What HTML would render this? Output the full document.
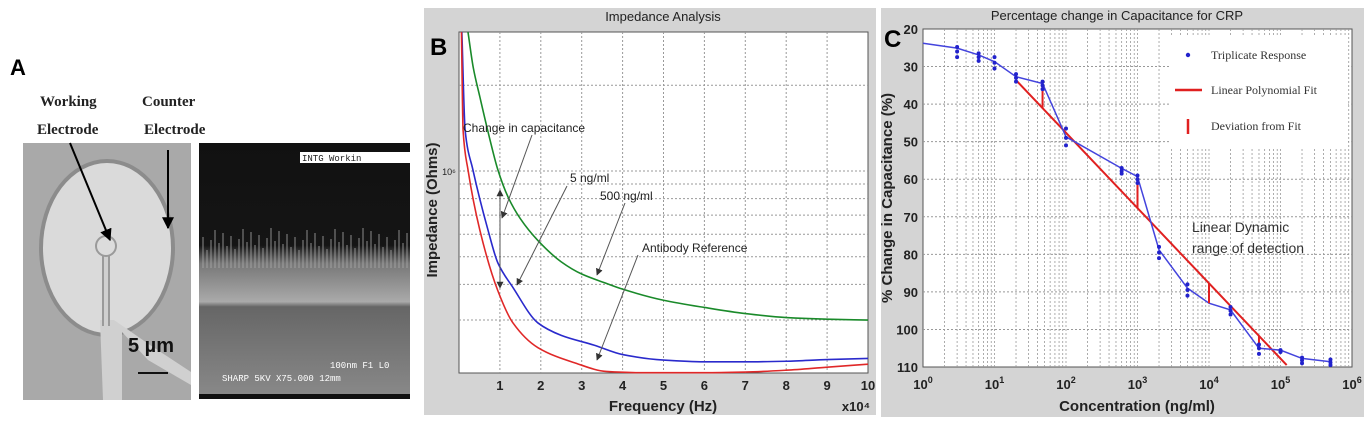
<!DOCTYPE html>
<html><head><meta charset="utf-8"><style>
html,body{margin:0;padding:0;background:#fff;}
svg{display:block;font-family:"Liberation Sans",sans-serif;}
</style></head><body>
<svg id="fig" width="1370" height="421" viewBox="0 0 1370 421">
<defs>
<linearGradient id="semg" x1="0" y1="0" x2="0" y2="1">
<stop offset="0" stop-color="#111"/><stop offset="0.4" stop-color="#151515"/><stop offset="0.47" stop-color="#777"/><stop offset="0.62" stop-color="#aaa"/><stop offset="0.64" stop-color="#666"/><stop offset="1" stop-color="#8a8a8a"/>
</linearGradient>
<marker id="ah" viewBox="0 0 10 10" refX="9" refY="5" markerWidth="7" markerHeight="7" orient="auto-start-reverse"><path d="M0,0 L10,5 L0,10 z" fill="#333"/></marker>
<marker id="ahb" viewBox="0 0 10 10" refX="9" refY="5" markerWidth="6" markerHeight="6" orient="auto-start-reverse"><path d="M0,0 L10,5 L0,10 z" fill="#000"/></marker>
</defs>

<!-- Panel A -->
<g>
<text x="10" y="75" font-size="22" font-weight="bold">A</text>
<g font-family="Liberation Serif,serif" font-weight="bold" font-size="15" fill="#222">
<text x="40" y="106">Working</text>
<text x="37" y="134">Electrode</text>
<text x="142" y="106">Counter</text>
<text x="144" y="134">Electrode</text>
</g>
<g>
<rect x="23" y="143" width="168" height="257" fill="#a9a9a9"/>
<ellipse cx="107" cy="248" rx="68" ry="89" fill="#8c8c8c"/>
<ellipse cx="107" cy="248" rx="64" ry="85" fill="#dadada"/>
<path d="M100 320 L114 320 L150 345 L191 372 L191 385 L148 360 L122 332 L122 400 L103 400 Z" fill="#d0d0d0"/>
<rect x="102" y="256" width="8" height="70" fill="#9a9a9a"/>
<rect x="104" y="256" width="4" height="70" fill="#d0d0d0"/>
<circle cx="106" cy="246" r="11" fill="#9a9a9a"/><circle cx="106" cy="246" r="9" fill="#dcdcdc"/>
<line x1="70" y1="143" x2="110" y2="240" stroke="#000" stroke-width="2" marker-end="url(#ahb)"/>
<line x1="168" y1="150" x2="168" y2="228" stroke="#000" stroke-width="2" marker-end="url(#ahb)"/>
<text x="128" y="352" font-size="20" font-weight="bold" fill="#111">5 µm</text>
<line x1="138" y1="373" x2="168" y2="373" stroke="#111" stroke-width="2"/>
</g>
<g>
<rect x="199" y="143" width="211" height="256" fill="url(#semg)"/>
<g id="wires" stroke="#aaa" stroke-width="1" opacity="0.8"></g>
<rect x="300" y="152" width="110" height="11" fill="#fff"/>
<text x="302" y="161" font-family="Liberation Mono,monospace" font-size="9" fill="#222">INTG Workin</text>
<text x="330" y="368" font-family="Liberation Mono,monospace" font-size="9" fill="#fff">100nm  F1 L0</text>
<text x="222" y="381" font-family="Liberation Mono,monospace" font-size="9" fill="#fff">SHARP   5KV  X75.000 12mm</text>
<rect x="199" y="394" width="211" height="5" fill="#111"/>
</g>
</g>

<!-- Panel B -->
<g>
<rect x="424" y="8" width="452" height="407" fill="#d4d4d4"/>
<rect x="459" y="32" width="409" height="341" fill="#fff" stroke="#555" stroke-width="1"/>
<text x="663" y="21" font-size="13" text-anchor="middle" fill="#222">Impedance Analysis</text>
<text x="430" y="55" font-size="24" font-weight="bold">B</text>
<g id="bgrid"></g>
<g id="bcurves"></g>
<g id="bticks" font-size="13" font-weight="bold" fill="#222"></g>
<text x="449" y="175" font-size="9" fill="#222" text-anchor="middle">10⁶</text>
<text x="663" y="411" font-size="15" font-weight="bold" text-anchor="middle" fill="#222">Frequency (Hz)</text>
<text x="870" y="411" font-size="13" font-weight="bold" text-anchor="end" fill="#222">x10⁴</text>
<text transform="translate(437,210) rotate(-90)" font-size="15" font-weight="bold" text-anchor="middle" fill="#222">Impedance (Ohms)</text>
<g font-size="12" fill="#222">
<text x="463" y="132">Change in capacitance</text>
<text x="570" y="182">5 ng/ml</text>
<text x="600" y="200">500 ng/ml</text>
<text x="642" y="252">Antibody Reference</text>
</g>
<g stroke="#555" stroke-width="1" fill="none">
<line x1="500" y1="190" x2="500" y2="288" marker-start="url(#ah)" marker-end="url(#ah)"/>
<line x1="532" y1="135" x2="502" y2="218" marker-end="url(#ah)"/>
<line x1="567" y1="186" x2="517" y2="285" marker-end="url(#ah)"/>
<line x1="625" y1="203" x2="597" y2="275" marker-end="url(#ah)"/>
<line x1="638" y1="255" x2="597" y2="360" marker-end="url(#ah)"/>
</g>
</g>

<!-- Panel C -->
<g>
<rect x="881" y="8" width="483" height="409" fill="#d4d4d4"/>
<rect x="923" y="29" width="429" height="338" fill="#fff" stroke="#555" stroke-width="1"/>
<text x="1117" y="20" font-size="13" text-anchor="middle" fill="#222">Percentage change in Capacitance for CRP</text>
<text x="884" y="47" font-size="24" font-weight="bold">C</text>
<g id="cgrid"></g>
<g id="cticks" font-size="13" font-weight="bold" fill="#222"></g>
<text x="1137" y="411" font-size="15" font-weight="bold" text-anchor="middle" fill="#222">Concentration (ng/ml)</text>
<text transform="translate(892,198) rotate(-90)" font-size="15" font-weight="bold" text-anchor="middle" fill="#222">% Change in Capacitance (%)</text>
<g id="cmarks"></g>
<g>
<rect x="1170" y="36" width="178" height="112" fill="#fff"/>
<circle cx="1188" cy="55" r="2.2" fill="#2222cc"/>
<line x1="1175" y1="90" x2="1202" y2="90" stroke="#e02020" stroke-width="2.5"/>
<line x1="1188" y1="119" x2="1188" y2="134" stroke="#e02020" stroke-width="2.5"/>
<g font-family="Liberation Serif,serif" font-size="12" fill="#333">
<text x="1211" y="59">Triplicate Response</text>
<text x="1211" y="94">Linear Polynomial Fit</text>
<text x="1211" y="130">Deviation from Fit</text>
</g>
</g>
<text x="1192" y="232" font-size="14" fill="#333">Linear Dynamic</text>
<text x="1192" y="253" font-size="14" fill="#333">range of detection</text>
</g>
</svg>
<script>
// ---- Panel B data (frequency in 1e4 Hz, impedance in 1e6 Ohm) ----
const freqGreen = [0.22,0.35,0.51,0.75,0.95,1.2,1.5,1.93,2.5,3,3.57,4,5,6,7,8,9,10];
const zGreen = [3.07,2.3,1.82,1.3,1.01,0.81,0.68,0.57,0.48,0.435,0.405,0.385,0.352,0.332,0.316,0.306,0.302,0.30];
const freqBlue = [0.07,0.15,0.34,0.71,0.95,1.32,1.93,2.5,3.3,4,5,6,7,8,9,10];
const zBlue = [3.07,1.39,1.01,0.62,0.476,0.39,0.293,0.265,0.245,0.227,0.217,0.214,0.214,0.215,0.218,0.22];
const freqRed = [0.06,0.1,0.22,0.51,0.95,1.32,1.93,2.84,3.6,4.5,5,6,7,8,9,10];
const zRed = [3.07,1.39,1.01,0.62,0.38,0.293,0.24,0.212,0.198,0.196,0.196,0.196,0.197,0.20,0.205,0.21];
const bGridZ = [2,1,0.9,0.8,0.7,0.6,0.5,0.4,0.3];
const bXTicks = [1,2,3,4,5,6,7,8,9,10];

// ---- Panel C data ----
const conc = [3,6,10,20,47,100,600,1000,2000,5000,20000,50000,100000,200000,500000];
const rep1 = [24.8,26.5,27.5,32,34,46.5,57,59,78,88,94,104,105.5,107.5,108];
const rep2 = [26,27.5,29,33,35,49,57.8,60,79.5,89.5,95,105,105.8,108.2,108.8];
const rep3 = [27.5,28.5,30.5,34,36,51,58.5,61,81,91,96,106.5,106,109,109.5];
const lineConc = [1,3,6,10,20,47,100,600,1000,2000,5000,10000,20000,50000,100000,200000,500000];
const lineVal = [23.8,25.1,26.9,28.7,32.7,34.5,48.7,57.1,59.3,78.8,89,93,94.8,105,105.5,107.7,108.6];
const fitIntercept = 7.55, fitSlope = 20.04;
const fitRange = [20,122000];
const devConc = [47,1000,10000,50000];
const devVal = [34.5,59.3,93,105];
const cYTicks = [20,30,40,50,60,70,80,90,100,110];
const cXTickExp = [0,1,2,3,4,5,6];

const NS='http://www.w3.org/2000/svg';
function mk(tag, attrs, parent){const e=document.createElementNS(NS,tag);for(const k in attrs)e.setAttribute(k,attrs[k]);parent.appendChild(e);return e;}

// B scales
const bx = f => 459 + f*40.9;
const by = z => Math.min(373, Math.max(32, 171 - Math.log10(z)*285));
const bgrid=document.getElementById('bgrid');
bXTicks.forEach(t=>{ if(t<10){const l=mk('line',{x1:bx(t),x2:bx(t),y1:32,y2:373,stroke:'#999','stroke-dasharray':'2,2'},bgrid);

}});
bGridZ.forEach(z=>{const l=mk('line',{x1:459,x2:868,y1:by(z),y2:by(z),stroke:'#999','stroke-dasharray':'2,2'},bgrid);

});
const bt=document.getElementById('bticks');
bXTicks.forEach(t=>{const e=mk('text',{x:bx(t),y:390,'text-anchor':'middle'},bt);e.textContent=t;

});
function monotone(pts){
 const n=pts.length, dx=[], m=[], t=new Array(n);
 for(let i=0;i<n-1;i++){dx[i]=pts[i+1][0]-pts[i][0]; m[i]=(pts[i+1][1]-pts[i][1])/dx[i];}
 t[0]=m[0]; t[n-1]=m[n-2];
 for(let i=1;i<n-1;i++){ if(m[i-1]*m[i]<=0) t[i]=0; else { const w1=2*dx[i]+dx[i-1], w2=dx[i]+2*dx[i-1]; t[i]=(w1+w2)/(w1/m[i-1]+w2/m[i]); } }
 let d='M'+pts[0][0]+','+pts[0][1];
 for(let i=0;i<n-1;i++){const h=dx[i]/3;
  d+=' C'+(pts[i][0]+h)+','+(pts[i][1]+t[i]*h)+' '+(pts[i+1][0]-h)+','+(pts[i+1][1]-t[i+1]*h)+' '+pts[i+1][0]+','+pts[i+1][1];}
 return d;}
const bc=document.getElementById('bcurves');
[[freqGreen,zGreen,'#1a8a2a','curve-antibody-reference'],[freqBlue,zBlue,'#2a2acc','curve-5ngml'],[freqRed,zRed,'#e02828','curve-500ngml']].forEach(s=>{
 const pts=s[0].map((f,i)=>[bx(f),by(s[1][i])]);
 const p=mk('path',{d:monotone(pts),fill:'none',stroke:s[2],'stroke-width':1.6},bc);
 
 
});

// C scales
const cx = c => 923 + Math.log10(c)*71.5;
const cy = v => 29 + (v-20)*3.756;
const cg=document.getElementById('cgrid');
for(let d=0;d<6;d++){for(let m=1;m<10;m++){const x=cx(m*Math.pow(10,d));
 if(m===1&&d===0)continue;
 const l=mk('line',{x1:x,x2:x,y1:29,y2:367,stroke:'#999','stroke-dasharray':'2,2','stroke-width':0.8},cg);
 
 }}
cYTicks.forEach(v=>{if(v===20||v===110)return;const l=mk('line',{x1:923,x2:1352,y1:cy(v),y2:cy(v),stroke:'#999','stroke-dasharray':'2,2'},cg);

});
const ct=document.getElementById('cticks');
cYTicks.forEach(v=>{const e=mk('text',{x:918,y:cy(v)+5,'text-anchor':'end'},ct);e.textContent=v;

});
cXTickExp.forEach(p=>{const e=mk('text',{x:cx(Math.pow(10,p)),y:389,'text-anchor':'middle'},ct);
e.innerHTML='10<tspan dy="-6" font-size="9">'+p+'</tspan>';

});
const cm=document.getElementById('cmarks');
const fit=c=>fitIntercept+fitSlope*Math.log10(c);
const fl=mk('line',{x1:cx(fitRange[0]),y1:cy(fit(fitRange[0])),x2:cx(fitRange[1]),y2:cy(fit(fitRange[1])),stroke:'#e02020','stroke-width':2},cm);


const bl=mk('polyline',{points:lineConc.map((c,i)=>cx(c)+','+cy(lineVal[i])).join(' '),fill:'none',stroke:'#4444dd','stroke-width':1.5},cm);


devConc.forEach((c,i)=>{const l=mk('line',{x1:cx(c),x2:cx(c),y1:cy(fit(c)),y2:cy(devVal[i]),stroke:'#e02020','stroke-width':2},cm);

});
[rep1,rep2,rep3].forEach(r=>r.forEach((v,i)=>{const d=mk('circle',{cx:cx(conc[i]),cy:cy(v),r:2,fill:'#2222cc'},cm);

}));

// SEM nanowire texture (decorative)
const w=document.getElementById('wires');
for(let x=203;x<410;x+=4){const h=8+((x*37)%23);const l=mk('line',{x1:x,x2:x,y1:258-h,y2:268},w);

}
</script>
</body></html>
